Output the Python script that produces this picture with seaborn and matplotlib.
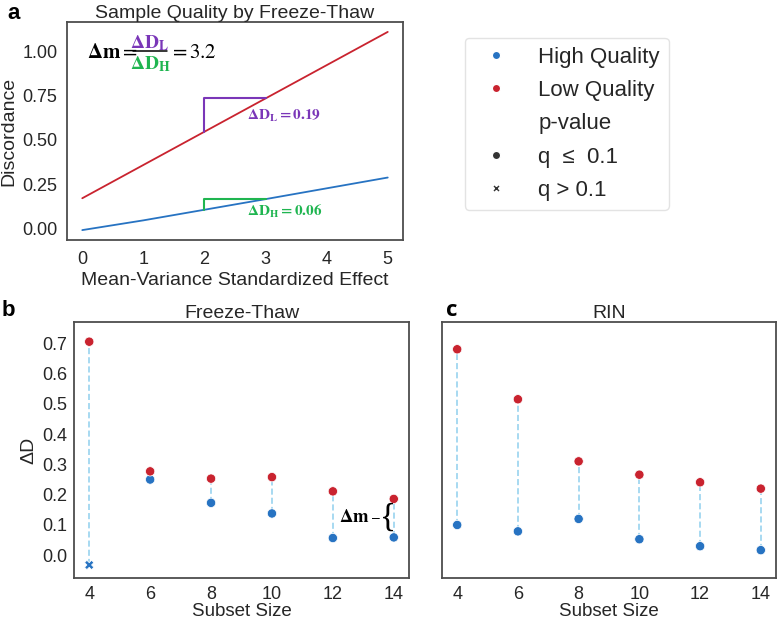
import pandas as pd
import seaborn as sns
import matplotlib.pyplot as plt
from matplotlib.lines import Line2D

# Panel a: discordance vs effect size
effect = [0, 1, 2, 3, 4, 5]
disc_high = [-0.01, 0.045, 0.105, 0.165, 0.226, 0.287]
disc_low = [0.17, 0.358, 0.546, 0.734, 0.922, 1.11]

# Panels b / c: delta D by subset size
subset = [4, 6, 8, 10, 12, 14]
ft_high = [-0.032, 0.25, 0.173, 0.138, 0.057, 0.059]
ft_low = [0.705, 0.277, 0.253, 0.258, 0.211, 0.186]
ft_high_q = ['q > 0.1', 'q ≤ 0.1', 'q ≤ 0.1', 'q ≤ 0.1', 'q ≤ 0.1', 'q ≤ 0.1']
rin_high = [0.10, 0.079, 0.12, 0.053, 0.03, 0.017]
rin_low = [0.68, 0.515, 0.31, 0.266, 0.241, 0.22]
rin_high_q = ['q ≤ 0.1'] * 6
low_q = ['q ≤ 0.1'] * 6

blue = '#2773c2'
red = '#c9232f'
purple = '#7a36b8'
green = '#1fb550'
pal = {'High Quality': blue, 'Low Quality': red}
marks = {'q ≤ 0.1': 'o', 'q > 0.1': 'X'}

sns.set_style('white')
plt.rcParams['font.family'] = ['Liberation Sans', 'DejaVu Sans']
plt.rcParams['mathtext.fontset'] = 'stix'
plt.rcParams['axes.edgecolor'] = '.3'
plt.rcParams['axes.linewidth'] = 1.3
plt.rcParams['text.color'] = '.15'

df_a = pd.DataFrame({'effect': effect * 2,
                     'disc': disc_high + disc_low,
                     'Quality': ['High Quality'] * 6 + ['Low Quality'] * 6})


def long_df(high, low, high_q):
    return pd.DataFrame({'size': subset * 2,
                         'dD': high + low,
                         'Quality': ['High Quality'] * 6 + ['Low Quality'] * 6,
                         'p': high_q + low_q})


df_b = long_df(ft_high, ft_low, ft_high_q)
df_c = long_df(rin_high, rin_low, rin_high_q)

fig = plt.figure(figsize=(7.78, 6.2), dpi=100)
axa = fig.add_axes([67 / 778, 1 - 240 / 620, 336 / 778, 218 / 620])
axb = fig.add_axes([74 / 778, 42 / 620, 335 / 778, 256 / 620])
axc = fig.add_axes([442 / 778, 42 / 620, 334 / 778, 256 / 620], sharey=axb)

# ---- panel a
sns.lineplot(data=df_a, x='effect', y='disc', hue='Quality', palette=pal,
             legend=False, ax=axa, lw=1.3)
axa.plot([2, 2, 3], [disc_low[2], disc_low[3], disc_low[3]], color=purple, lw=1.5)
axa.plot([2, 2, 3], [disc_high[2], disc_high[3], disc_high[3]], color=green, lw=1.5)
axa.text(2.7, 0.635, r'$\mathbf{\Delta D_L = 0.19}$', color=purple, fontsize=11,
         va='center')
axa.text(2.7, 0.095, r'$\mathbf{\Delta D_H = 0.06}$', color=green, fontsize=11,
         va='center')
# formula
axa.text(0.06, 0.862, r'$\mathbf{\Delta m} =$', transform=axa.transAxes,
         fontsize=15, color='k', va='center')
axa.text(0.247, 0.905, r'$\mathbf{\Delta D_L}$', transform=axa.transAxes,
         fontsize=14, color=purple, ha='center', va='center')
axa.text(0.247, 0.805, r'$\mathbf{\Delta D_H}$', transform=axa.transAxes,
         fontsize=14, color=green, ha='center', va='center')
axa.plot([0.196, 0.298], [0.865, 0.865], transform=axa.transAxes, color='k', lw=1.1)
axa.text(0.305, 0.862, r'$= 3.2$', transform=axa.transAxes,
         fontsize=15, color='k', va='center')
axa.set_title('Sample Quality by Freeze-Thaw', fontsize=14, pad=3)
axa.set_xlabel('Mean-Variance Standardized Effect', fontsize=14, labelpad=3)
axa.set_ylabel('Discordance', fontsize=14, labelpad=3)
axa.set_yticks([0, 0.25, 0.5, 0.75, 1.0])
axa.set_yticklabels(['0.00', '0.25', '0.50', '0.75', '1.00'])
axa.tick_params(labelsize=13, length=0)
axa.tick_params(axis='y', pad=7)
axa.tick_params(axis='x', pad=8)

# ---- panels b and c
for ax, df, hi, lo, title in [(axb, df_b, ft_high, ft_low, 'Freeze-Thaw'),
                               (axc, df_c, rin_high, rin_low, 'RIN')]:
    ax.vlines(subset, hi, lo, colors='#8fd0ee', linestyles=(0, (4, 2)), lw=1.1,
              zorder=1)
    sns.scatterplot(data=df, x='size', y='dD', hue='Quality', style='p',
                    palette=pal, markers=marks, s=45, legend=False, ax=ax,
                    zorder=3)
    ax.set_title(title, fontsize=14, pad=3)
    ax.set_xlabel('Subset Size', fontsize=13.5, labelpad=-0.5)
    ax.set_xticks(subset)
    ax.tick_params(labelsize=13, length=0)
    ax.tick_params(axis='x', pad=6)
    ax.tick_params(axis='y', pad=5)

axb.set_ylim(-0.075, 0.77)
axb.set_yticks([0, 0.1, 0.2, 0.3, 0.4, 0.5, 0.6, 0.7])
axb.set_ylabel('ΔD', fontsize=14, labelpad=3)
axc.set_ylabel('')
axc.tick_params(labelleft=False)

# delta m brace
axb.text(13.2, 0.124, r'$\mathbf{\Delta m}$', fontsize=13.5, color='k',
         ha='right', va='center')
axb.text(13.3, 0.124, '–', fontsize=10, color='k', ha='left', va='center')
axb.text(13.55, 0.126, '{', fontsize=24, color='k', ha='left', va='center',
         family='Liberation Serif')

# legend
h = [Line2D([], [], ls='', marker='o', color=blue, markersize=6, markeredgecolor='white'),
     Line2D([], [], ls='', marker='o', color=red, markersize=6, markeredgecolor='white'),
     Line2D([], [], ls='', marker=''),
     Line2D([], [], ls='', marker='o', color='.2', markersize=6, markeredgecolor='white'),
     Line2D([], [], ls='', marker='X', color='.2', markersize=6, markeredgecolor='white')]
labels = ['High Quality', 'Low Quality', 'p-value', 'q  ≤  0.1', 'q > 0.1']
fig.legend(h, labels, loc='upper left', bbox_to_anchor=(465 / 778, 1 - 38 / 620),
           borderaxespad=0, fontsize=16, labelspacing=0.55, handlelength=2.0,
           handletextpad=0.9, borderpad=0.4,
           frameon=True, edgecolor='#dddddd', fancybox=True)

fig.text(7 / 778, 1 - 3 / 620, 'a', fontsize=16, fontweight='bold', va='top', color='k')
fig.text(2 / 778, 1 - 300 / 620, 'b', fontsize=16, fontweight='bold', va='top', color='k')
fig.text(446 / 778, 1 - 300 / 620, 'c', fontsize=16, fontweight='bold', va='top',
         color='k', family='Open Sans')

plt.savefig('out.png', dpi=100)
